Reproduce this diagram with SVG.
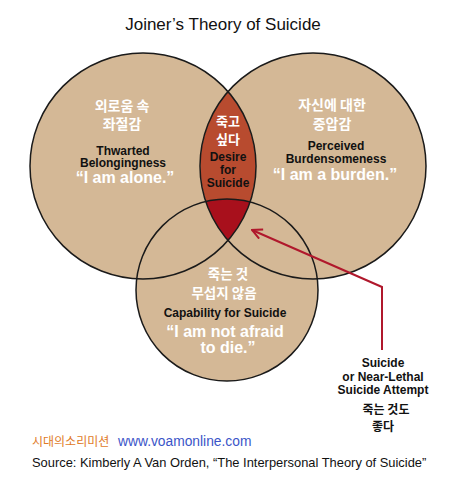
<svg xmlns="http://www.w3.org/2000/svg" width="468" height="481" viewBox="0 0 468 481">
<style>
.bg{fill:#ffffff}
.circ{fill:#d4b896}
.outline{fill:none;stroke:#1a1a1a;stroke-width:1.5}
.kw{font-family:"Noto Sans CJK KR","Noto Sans",sans-serif;font-weight:bold;fill:#ffffff;text-anchor:middle}
.kb{font-family:"Noto Sans CJK KR","Noto Sans",sans-serif;font-weight:bold;fill:#111111;text-anchor:middle}
.en{font-family:"Liberation Sans",Arial,sans-serif;font-weight:bold;fill:#111111;text-anchor:middle;font-size:12px}
.q{font-family:"Liberation Sans",Arial,sans-serif;font-weight:bold;fill:#ffffff;text-anchor:middle;font-size:16px}
.plain{font-family:"Liberation Sans",Arial,sans-serif;fill:#111111}
</style>
<defs>
<clipPath id="lensClip"><path d="M228,92 A113,113 0 0 1 228,240 A113,113 0 0 1 228,92 Z"/></clipPath>
<marker id="arrowOpen" viewBox="0 0 12 12" refX="11" refY="6" markerWidth="12" markerHeight="12" markerUnits="userSpaceOnUse" orient="auto">
<path d="M1,1 L11,6 L1,11" fill="none" stroke="#b0182c" stroke-width="2"/>
</marker>
</defs>
<rect class="bg" x="0" y="0" width="468" height="481"/>
<g id="title">
<text class="plain" x="223" y="30" font-size="17" text-anchor="middle">Joiner’s Theory of Suicide</text>
</g>
<g id="fills">
<circle class="circ" cx="143" cy="166" r="113"/>
<circle class="circ" cx="313" cy="166" r="113"/>
<circle class="circ" cx="227" cy="290" r="91"/>
<path d="M228,92 A113,113 0 0 1 228,240 A113,113 0 0 1 228,92 Z" fill="#b84b2f"/>
<circle cx="227" cy="290" r="91" fill="#a8101c" clip-path="url(#lensClip)"/>
</g>
<g id="outlines">
<circle class="outline" cx="143" cy="166" r="113"/>
<circle class="outline" cx="313" cy="166" r="113"/>
<circle class="outline" cx="227" cy="290" r="91"/>
</g>
<g id="node-thwarted-belongingness">
<text class="kw" x="122" y="111" font-size="14">외로움 속</text>
<text class="kw" x="122" y="129" font-size="14">좌절감</text>
<text class="en" x="123" y="154.5">Thwarted</text>
<text class="en" x="123" y="167">Belongingness</text>
<text class="q" x="125" y="183">“I am alone.”</text>
</g>
<g id="node-perceived-burdensomeness">
<text class="kw" x="332" y="110" font-size="14">자신에 대한</text>
<text class="kw" x="332" y="129" font-size="14">중압감</text>
<text class="en" x="336" y="150">Perceived</text>
<text class="en" x="336" y="163">Burdensomeness</text>
<text class="q" x="335" y="180">“I am a burden.”</text>
</g>
<g id="node-desire">
<text class="kw" x="228" y="126" font-size="13">죽고</text>
<text class="kw" x="228" y="144" font-size="13">싶다</text>
<text class="en" x="228" y="161">Desire</text>
<text class="en" x="228" y="174">for</text>
<text class="en" x="228" y="187">Suicide</text>
</g>
<g id="node-capability">
<text class="kw" x="228" y="278.5" font-size="13.5">죽는 것</text>
<text class="kw" x="224" y="297.5" font-size="13.5">무섭지 않음</text>
<text class="en" x="225" y="317">Capability for Suicide</text>
<text class="q" x="225" y="337" font-size="15.5">“I am not afraid</text>
<text class="q" x="228" y="353" font-size="15.5">to die.”</text>
</g>
<g id="connectors">
<polyline points="382,350 382,287 252,230" fill="none" stroke="#b0182c" stroke-width="2" marker-end="url(#arrowOpen)"/>
</g>
<g id="node-attempt">
<text class="en" x="383" y="367" font-size="12.5">Suicide</text>
<text class="en" x="383" y="380.5" font-size="12.5">or Near-Lethal</text>
<text class="en" x="383" y="394" font-size="12.5">Suicide Attempt</text>
<text class="kb" x="386" y="413.5" font-size="12">죽는 것도</text>
<text class="kb" x="383" y="431" font-size="12">좋다</text>
</g>
<g id="footer">
<text x="32" y="446" font-family="'Noto Sans CJK KR','Noto Sans',sans-serif" font-size="12" fill="#e07a28">시대의소리미션</text>
<text class="plain" x="118" y="446" font-size="13.8" style="fill:#3a55c8">www.voamonline.com</text>
<text class="plain" x="32" y="467" font-size="12.9">Source: Kimberly A Van Orden, “The Interpersonal Theory of Suicide”</text>
</g>
</svg>
